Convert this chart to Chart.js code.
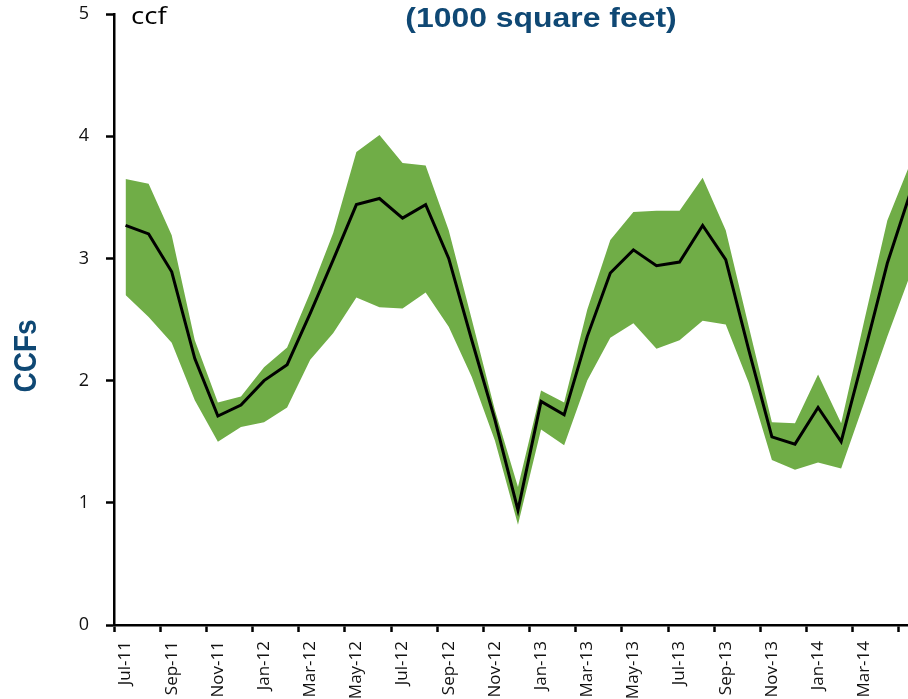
<!DOCTYPE html>
<html lang="en">
<head>
    <meta charset="UTF-8">
    <title>CCFs per 1000 square feet</title>
    <style>
        html, body {
            margin: 0;
            padding: 0;
            background: #ffffff;
            overflow: hidden;
        }
        .chart-wrap {
            width: 908px;
            height: 699px;
            overflow: hidden; /* the right and bottom edges of the chart are cut off, like the original */
        }
        #ccfChart {
            display: block;
        }
    </style>
    <script src="https://cdn.jsdelivr.net/npm/chart.js@4/dist/chart.umd.min.js"></script>
</head>
<body>
    <div class="chart-wrap">
        <canvas id="ccfChart" width="940" height="720"></canvas>
    </div>
    <script>
        // months shown on the x axis (May-14 falls just past the right edge)
        const months = [
            'Jul-11', 'Aug-11', 'Sep-11', 'Oct-11', 'Nov-11', 'Dec-11',
            'Jan-12', 'Feb-12', 'Mar-12', 'Apr-12', 'May-12', 'Jun-12',
            'Jul-12', 'Aug-12', 'Sep-12', 'Oct-12', 'Nov-12', 'Dec-12',
            'Jan-13', 'Feb-13', 'Mar-13', 'Apr-13', 'May-13', 'Jun-13',
            'Jul-13', 'Aug-13', 'Sep-13', 'Oct-13', 'Nov-13', 'Dec-13',
            'Jan-14', 'Feb-14', 'Mar-14', 'Apr-14', 'May-14'
        ];

        // average ccf (black line)
        const avgCcf = [
            3.27, 3.20, 2.89, 2.18, 1.71, 1.80,
            2.00, 2.13, 2.55, 2.99, 3.44, 3.49,
            3.33, 3.44, 3.00, 2.33, 1.68, 0.94,
            1.83, 1.72, 2.36, 2.88, 3.07, 2.94,
            2.97, 3.27, 2.99, 2.25, 1.54, 1.48,
            1.78, 1.50, 2.22, 2.96, 3.54
        ];

        // top and bottom of the green band
        const highCcf = [
            3.65, 3.61, 3.19, 2.33, 1.82, 1.87,
            2.11, 2.27, 2.72, 3.21, 3.87, 4.01,
            3.78, 3.76, 3.23, 2.50, 1.76, 1.13,
            1.92, 1.82, 2.58, 3.15, 3.38, 3.39,
            3.39, 3.66, 3.23, 2.44, 1.66, 1.65,
            2.05, 1.65, 2.49, 3.31, 3.78
        ];
        const lowCcf = [
            2.70, 2.52, 2.31, 1.84, 1.50, 1.62,
            1.66, 1.78, 2.17, 2.39, 2.68, 2.60,
            2.59, 2.72, 2.44, 2.03, 1.51, 0.82,
            1.60, 1.47, 2.00, 2.35, 2.47, 2.26,
            2.33, 2.49, 2.46, 1.98, 1.35, 1.27,
            1.33, 1.28, 1.82, 2.36, 2.87
        ];

        const yTicks = [0, 1, 2, 3, 4, 5];
        const lastLabelled = 'Mar-14';

        const navy = '#0f4874';
        const bandGreen = '#70ad47';

        // title, unit and axis caption; the original text is a little wider than it is tall
        const captionPlugin = {
            id: 'captions',
            afterDraw(chart) {
                const ctx = chart.ctx;
                ctx.save();
                ctx.fillStyle = navy;
                ctx.textAlign = 'center';
                ctx.textBaseline = 'middle';

                ctx.save();
                ctx.translate(541, 19);
                ctx.scale(1.14, 1);
                ctx.font = 'bold 28px "Liberation Sans", Arial, sans-serif';
                ctx.fillText('(1000 square feet)', 0, 0);
                ctx.restore();

                ctx.save();
                ctx.translate(27, 356);
                ctx.scale(1.15, 1);
                ctx.rotate(-Math.PI / 2);
                ctx.font = 'bold 28px "Liberation Sans", Arial, sans-serif';
                ctx.fillText('CCFs', 0, 0);
                ctx.restore();

                ctx.save();
                ctx.fillStyle = '#000000';
                ctx.textAlign = 'left';
                ctx.translate(131, 17);
                ctx.scale(1.15, 1);
                ctx.font = '24px "Open Sans", sans-serif';
                ctx.fillText('ccf', 0, 0);
                ctx.restore();

                ctx.restore();
            }
        };

        new Chart(document.getElementById('ccfChart'), {
            type: 'line',
            data: {
                labels: months,
                datasets: [
                    {
                        label: 'Average',
                        data: avgCcf,
                        borderColor: '#000000',
                        borderWidth: 3,
                        pointRadius: 0,
                        tension: 0,
                        fill: false
                    },
                    {
                        label: 'High',
                        data: highCcf,
                        borderWidth: 0,
                        borderColor: 'rgba(0,0,0,0)',
                        backgroundColor: bandGreen,
                        pointRadius: 0,
                        tension: 0,
                        fill: '+1'
                    },
                    {
                        label: 'Low',
                        data: lowCcf,
                        borderWidth: 0,
                        borderColor: 'rgba(0,0,0,0)',
                        pointRadius: 0,
                        tension: 0,
                        fill: false
                    }
                ]
            },
            options: {
                responsive: false,
                animation: false,
                devicePixelRatio: 1,
                layout: { padding: { top: 14, right: 14, bottom: 0, left: 0 } },
                plugins: {
                    legend: { display: false },
                    tooltip: { enabled: false }
                },
                scales: {
                    x: {
                        offset: true,
                        afterFit: (scale) => { scale.height = 95; },
                        border: { display: true, color: '#000000', width: 2.5 },
                        grid: {
                            offset: true,
                            drawOnChartArea: false,
                            drawTicks: true,
                            tickLength: 7,
                            tickWidth: 2.5,
                            tickColor: (ctx) => ctx.index % 2 === 0 ? '#000000' : 'rgba(0,0,0,0)'
                        },
                        ticks: {
                            autoSkip: false,
                            maxRotation: 90,
                            minRotation: 90,
                            padding: 9,
                            color: '#111111',
                            font: { family: '"Open Sans", sans-serif', size: 17 },
                            callback: function (value, index) {
                                const stop = months.indexOf(lastLabelled);
                                return index % 2 === 0 && index <= stop ? this.getLabelForValue(value) : '';
                            }
                        }
                    },
                    y: {
                        min: 0,
                        max: 5,
                        afterFit: (scale) => {
                            scale.width = 114;
                            scale.paddingTop = 0; // tick padding would otherwise push the plot down
                            scale.paddingBottom = 0;
                        },
                        afterBuildTicks: (scale) => { scale.ticks = yTicks.map(v => ({ value: v })); },
                        border: { display: true, color: '#000000', width: 2.5 },
                        grid: {
                            drawOnChartArea: false,
                            drawTicks: true,
                            tickLength: 8,
                            tickWidth: 2.5,
                            tickColor: '#000000'
                        },
                        ticks: {
                            padding: 17,
                            color: '#111111',
                            font: { family: '"Open Sans", sans-serif', size: 18 }
                        }
                    }
                }
            },
            plugins: [captionPlugin]
        });
    </script>
</body>
</html>
